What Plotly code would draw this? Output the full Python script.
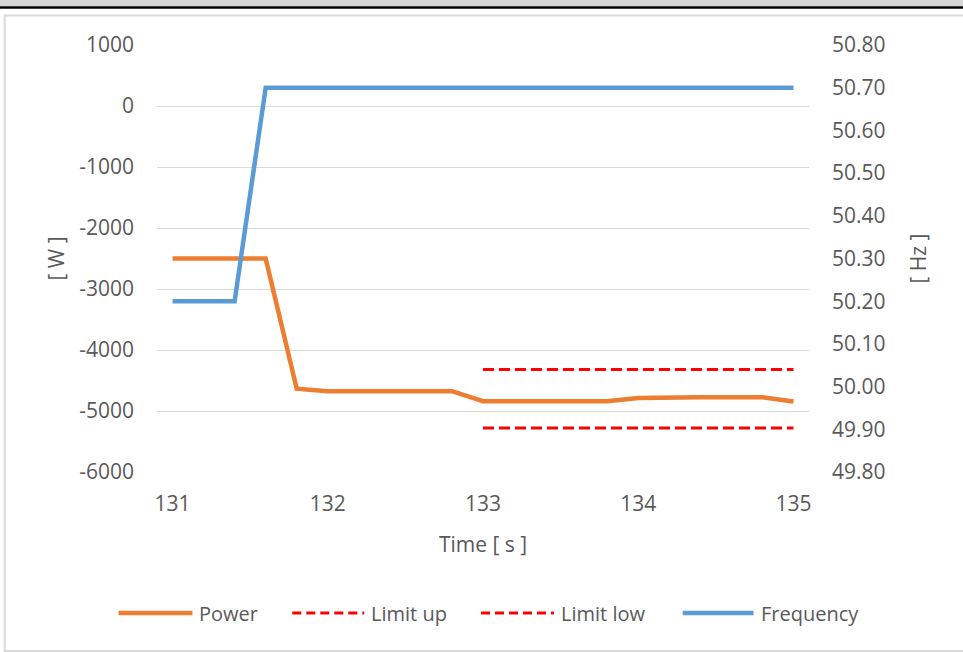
import plotly.graph_objects as go

# ---------------- data ----------------
time = [131.0, 131.2, 131.4, 131.6, 131.8, 132.0, 132.2, 132.4, 132.6, 132.8,
        133.0, 133.2, 133.4, 133.6, 133.8, 134.0, 134.2, 134.4, 134.6, 134.8, 135.0]
power = [-2500, -2500, -2500, -2500, -4635, -4675, -4675, -4675, -4675, -4675,
         -4840, -4840, -4840, -4840, -4840, -4785, -4775, -4775, -4775, -4775, -4845]
limit_up = [None] * 10 + [-4320] * 11
limit_low = [None] * 10 + [-5280] * 11
frequency = [50.2, 50.2, 50.2, 50.7, 50.7, 50.7, 50.7, 50.7, 50.7, 50.7,
             50.7, 50.7, 50.7, 50.7, 50.7, 50.7, 50.7, 50.7, 50.7, 50.7, 50.7]
x_ticks = [131, 132, 133, 134, 135]
y_ticks = [1000, 0, -1000, -2000, -3000, -4000, -5000, -6000]
y_tick_labels = ["1000", "0", "-1000", "-2000", "-3000", "-4000", "-5000", "-6000"]
y2_ticks = [50.8, 50.7, 50.6, 50.5, 50.4, 50.3, 50.2, 50.1, 50.0, 49.9, 49.8]
y2_tick_labels = ["50.80", "50.70", "50.60", "50.50", "50.40", "50.30",
                  "50.20", "50.10", "50.00", "49.90", "49.80"]
legend_names = ["Power", "Limit up", "Limit low", "Frequency"]

ORANGE = "#ED7D31"
BLUE = "#5B9BD5"
RED = "#FF0000"
GRID = "#D9D9D9"
TXT = "#595959"
FONT = "Open Sans"
FS = 21

W, H = 963, 652
L, R, T, B = 156.5, 809.5, 45, 472


def px(x):
    return (x - L) / (R - L)


def py(y):
    return (B - y) / (B - T)


fig = go.Figure()
fig.add_trace(go.Scatter(x=time, y=power, name="Power", mode="lines",
                         line=dict(color=ORANGE, width=4.5), showlegend=False))
fig.add_trace(go.Scatter(x=time, y=limit_up, name="Limit up", mode="lines",
                         line=dict(color=RED, width=3, dash="11px,5px"), showlegend=False))
fig.add_trace(go.Scatter(x=time, y=limit_low, name="Limit low", mode="lines",
                         line=dict(color=RED, width=3, dash="11px,5px"), showlegend=False))
fig.add_trace(go.Scatter(x=time, y=frequency, name="Frequency", mode="lines",
                         line=dict(color=BLUE, width=4.5), yaxis="y2", showlegend=False))

shapes = []
annotations = []
# outer frame: grey strip, black rule, chart border
shapes.append(dict(type="rect", xref="paper", yref="paper", x0=px(-5), x1=px(W + 5),
                   y0=py(-5), y1=py(6.3), fillcolor="#D6D6D6", line=dict(width=0), layer="above"))
shapes.append(dict(type="rect", xref="paper", yref="paper", x0=px(-5), x1=px(W + 5),
                   y0=py(6.3), y1=py(8.8), fillcolor="#000000", line=dict(width=0), layer="above"))
shapes.append(dict(type="rect", xref="paper", yref="paper", x0=px(4), x1=px(W + 10),
                   y0=py(15.5), y1=py(651), line=dict(color="#D9D9D9", width=2), layer="below"))

# manual legend
leg_y = py(613)
leg_items = [
    (118, 192, 197, ORANGE, 4.5, "solid"),
    (292, 364, 369, RED, 3, "9px,5px"),
    (481, 554, 559, RED, 3, "9px,5px"),
    (683, 754, 759, BLUE, 4.5, "solid"),
]
for name, (x0, x1, xt, col, wd, ds) in zip(legend_names, leg_items):
    shapes.append(dict(type="line", xref="paper", yref="paper", x0=px(x0), x1=px(x1),
                       y0=leg_y, y1=leg_y, line=dict(color=col, width=wd, dash=ds)))
    annotations.append(dict(xref="paper", yref="paper", x=px(xt), y=leg_y, text=name,
                            showarrow=False, xanchor="left", yanchor="middle",
                            font=dict(family=FONT, size=FS - 1, color=TXT)))

fig.update_layout(
    width=W, height=H,
    margin=dict(l=L, r=W - R, t=T, b=H - B, pad=0),
    paper_bgcolor="white", plot_bgcolor="white",
    font=dict(family=FONT, size=FS, color=TXT),
    xaxis=dict(range=[130.9, 135.1], tickmode="array", tickvals=x_ticks,
               ticktext=[str(v) for v in x_ticks], showgrid=False, zeroline=False,
               showline=False, ticks="", ticklabelstandoff=17, automargin=False,
               title=dict(text="Time [ s ]", standoff=21, font=dict(size=FS, color=TXT))),
    yaxis=dict(range=[-6000, 1000], tickmode="array", tickvals=y_ticks,
               ticktext=y_tick_labels, showgrid=True, gridcolor=GRID,
               gridwidth=1, zeroline=False, showline=False, ticks="", ticklabelstandoff=22,
               automargin=False,
               title=dict(text="[ W ]", standoff=8, font=dict(size=FS, color=TXT))),
    yaxis2=dict(range=[49.8, 50.8], tickmode="array", tickvals=y2_ticks,
                ticktext=y2_tick_labels,
                overlaying="y", side="right", showgrid=False, zeroline=False,
                showline=False, ticks="", ticklabelstandoff=22, automargin=False,
                title=dict(text="[ Hz ]", standoff=26, font=dict(size=FS, color=TXT))),
    shapes=shapes,
    annotations=annotations,
    showlegend=False,
)

fig.write_html("out.html", config={"displayModeBar": False},
               post_script="document.body.style.margin='0';document.body.style.overflow='hidden';")
